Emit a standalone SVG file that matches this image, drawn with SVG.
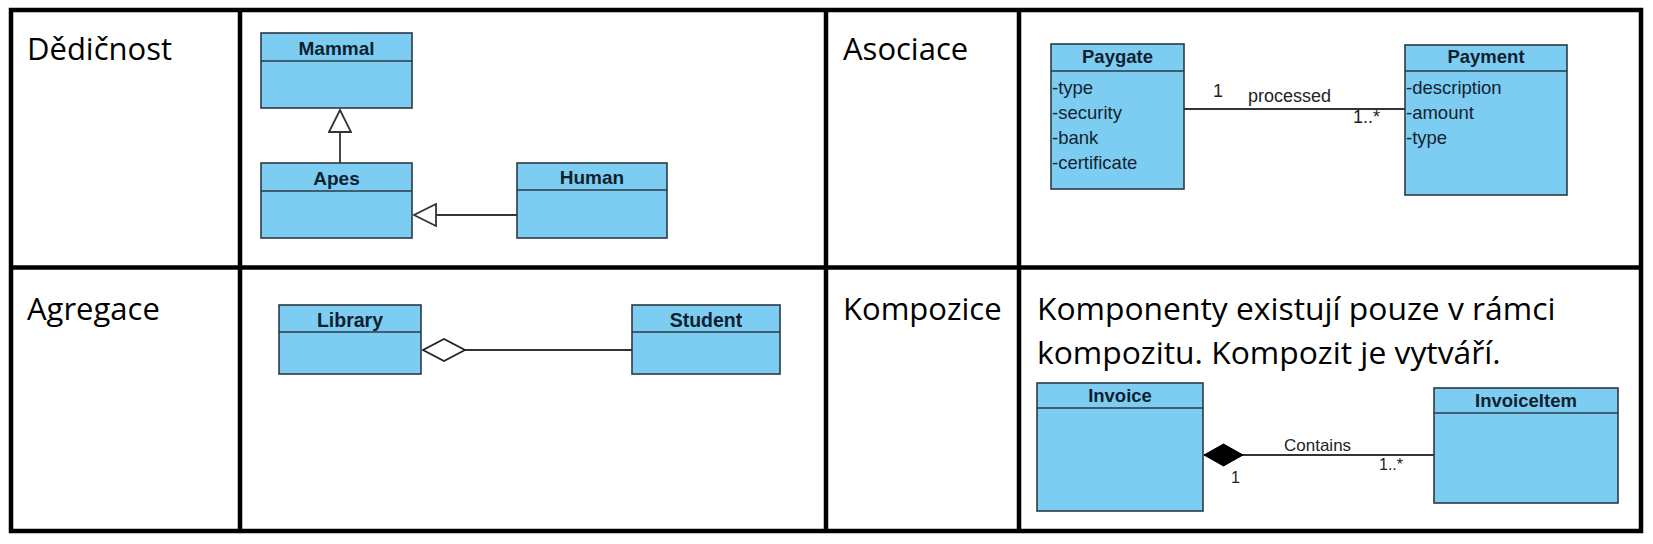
<svg xmlns="http://www.w3.org/2000/svg" width="1653" height="544" viewBox="0 0 1653 544">
<style>
.cell{font-family:"Open Sans","Noto Sans",sans-serif;font-size:31px;fill:#000}
.para{font-family:"Open Sans","Noto Sans",sans-serif;font-size:31.8px;fill:#000}
.box{fill:#7dcdf3;stroke:#2b3a45;stroke-width:1.6}
.sep{stroke:#2b3a45;stroke-width:1.6}
.hd{font-family:"Liberation Sans",Arial,sans-serif;font-weight:bold;fill:#0e1f2e;text-anchor:middle}
.at{font-family:"Liberation Sans",Arial,sans-serif;font-size:18.5px;fill:#13222f}
.lbl{font-family:"Liberation Sans",Arial,sans-serif;fill:#222}
.ln{stroke:#333;stroke-width:1.8;fill:none}
.grid{stroke:#000;stroke-width:4.5;fill:none}
</style>
<defs>
<marker id="inh" markerUnits="userSpaceOnUse" markerWidth="24" markerHeight="24" viewBox="0 0 24 24" refX="23" refY="12" orient="auto"><path d="M1,1 L23,12 L1,23 Z" fill="#fff" stroke="#333" stroke-width="1.8"/></marker>
<marker id="agg" markerUnits="userSpaceOnUse" markerWidth="44" markerHeight="24" viewBox="0 0 44 24" refX="43" refY="12" orient="auto"><path d="M1,12 L22,1 L43,12 L22,23 Z" fill="#fff" stroke="#222" stroke-width="1.8"/></marker>
<marker id="comp" markerUnits="userSpaceOnUse" markerWidth="42" markerHeight="24" viewBox="0 0 42 24" refX="40" refY="12" orient="auto"><path d="M1,12 L20.5,1 L40,12 L20.5,23 Z" fill="#000" stroke="#000" stroke-width="1"/></marker>
</defs>
<rect width="1653" height="544" fill="#fff"/>
<g id="table">
<rect class="grid" x="11" y="10" width="1630" height="521"/>
<line class="grid" x1="240" y1="10" x2="240" y2="531"/>
<line class="grid" x1="826" y1="10" x2="826" y2="531"/>
<line class="grid" x1="1019" y1="10" x2="1019" y2="531"/>
<line class="grid" x1="11" y1="267.5" x2="1641" y2="267.5"/>
<text class="cell" x="27" y="60">Dědičnost</text>
<text class="cell" x="27" y="320">Agregace</text>
<text class="cell" x="843" y="60">Asociace</text>
<text class="cell" x="843" y="320">Kompozice</text>
<text class="para" x="1037" y="320">Komponenty existují pouze v rámci</text>
<text class="para" x="1037" y="364">kompozitu. Kompozit je vytváří.</text>
</g>
<g id="mammal">
<rect class="box" x="261" y="33" width="151" height="75"/>
<line class="sep" x1="261" y1="61" x2="412" y2="61"/>
<text class="hd" x="336.5" y="55" font-size="19">Mammal</text>
</g>
<g id="apes">
<rect class="box" x="261" y="163" width="151" height="75"/>
<line class="sep" x1="261" y1="191" x2="412" y2="191"/>
<text class="hd" x="336.5" y="185" font-size="19">Apes</text>
</g>
<g id="human">
<rect class="box" x="517" y="163" width="150" height="75"/>
<line class="sep" x1="517" y1="190" x2="667" y2="190"/>
<text class="hd" x="592" y="184" font-size="19">Human</text>
</g>
<g id="paygate">
<rect class="box" x="1051" y="44" width="133" height="145"/>
<line class="sep" x1="1051" y1="71" x2="1184" y2="71"/>
<text class="hd" x="1117.5" y="63" font-size="18.5">Paygate</text>
<text class="at" x="1052" y="94">-type</text>
<text class="at" x="1052" y="119">-security</text>
<text class="at" x="1052" y="144">-bank</text>
<text class="at" x="1052" y="169">-certificate</text>
</g>
<g id="payment">
<rect class="box" x="1405" y="45" width="162" height="150"/>
<line class="sep" x1="1405" y1="71" x2="1567" y2="71"/>
<text class="hd" x="1486" y="63" font-size="18.5">Payment</text>
<text class="at" x="1406" y="94">-description</text>
<text class="at" x="1406" y="119">-amount</text>
<text class="at" x="1406" y="144">-type</text>
</g>
<g id="library">
<rect class="box" x="279" y="305" width="142" height="69"/>
<line class="sep" x1="279" y1="332" x2="421" y2="332"/>
<text class="hd" x="350" y="327" font-size="19.5">Library</text>
</g>
<g id="student">
<rect class="box" x="632" y="305" width="148" height="69"/>
<line class="sep" x1="632" y1="332" x2="780" y2="332"/>
<text class="hd" x="706" y="327" font-size="19.5">Student</text>
</g>
<g id="invoice">
<rect class="box" x="1037" y="383" width="166" height="128"/>
<line class="sep" x1="1037" y1="408" x2="1203" y2="408"/>
<text class="hd" x="1120" y="402" font-size="18.5">Invoice</text>
</g>
<g id="invoiceitem">
<rect class="box" x="1434" y="388" width="184" height="115"/>
<line class="sep" x1="1434" y1="413" x2="1618" y2="413"/>
<text class="hd" x="1526" y="407" font-size="18.5">InvoiceItem</text>
</g>
<g id="connectors">
<line class="ln" x1="340" y1="163" x2="340" y2="110" marker-end="url(#inh)"/>
<line class="ln" x1="517" y1="215" x2="414" y2="215" marker-end="url(#inh)"/>
<line class="ln" x1="1184" y1="109" x2="1405" y2="109"/>
<text class="lbl" x="1213" y="97" font-size="18">1</text>
<text class="lbl" x="1248" y="102" font-size="18">processed</text>
<text class="lbl" x="1353" y="123" font-size="18">1..*</text>
<line class="ln" x1="632" y1="350" x2="423" y2="350" marker-end="url(#agg)"/>
<line class="ln" x1="1434" y1="455" x2="1204" y2="455" marker-end="url(#comp)"/>
<text class="lbl" x="1284" y="451" font-size="17">Contains</text>
<text class="lbl" x="1379" y="470" font-size="16">1..*</text>
<text class="lbl" x="1231" y="483" font-size="16">1</text>
</g>
</svg>
